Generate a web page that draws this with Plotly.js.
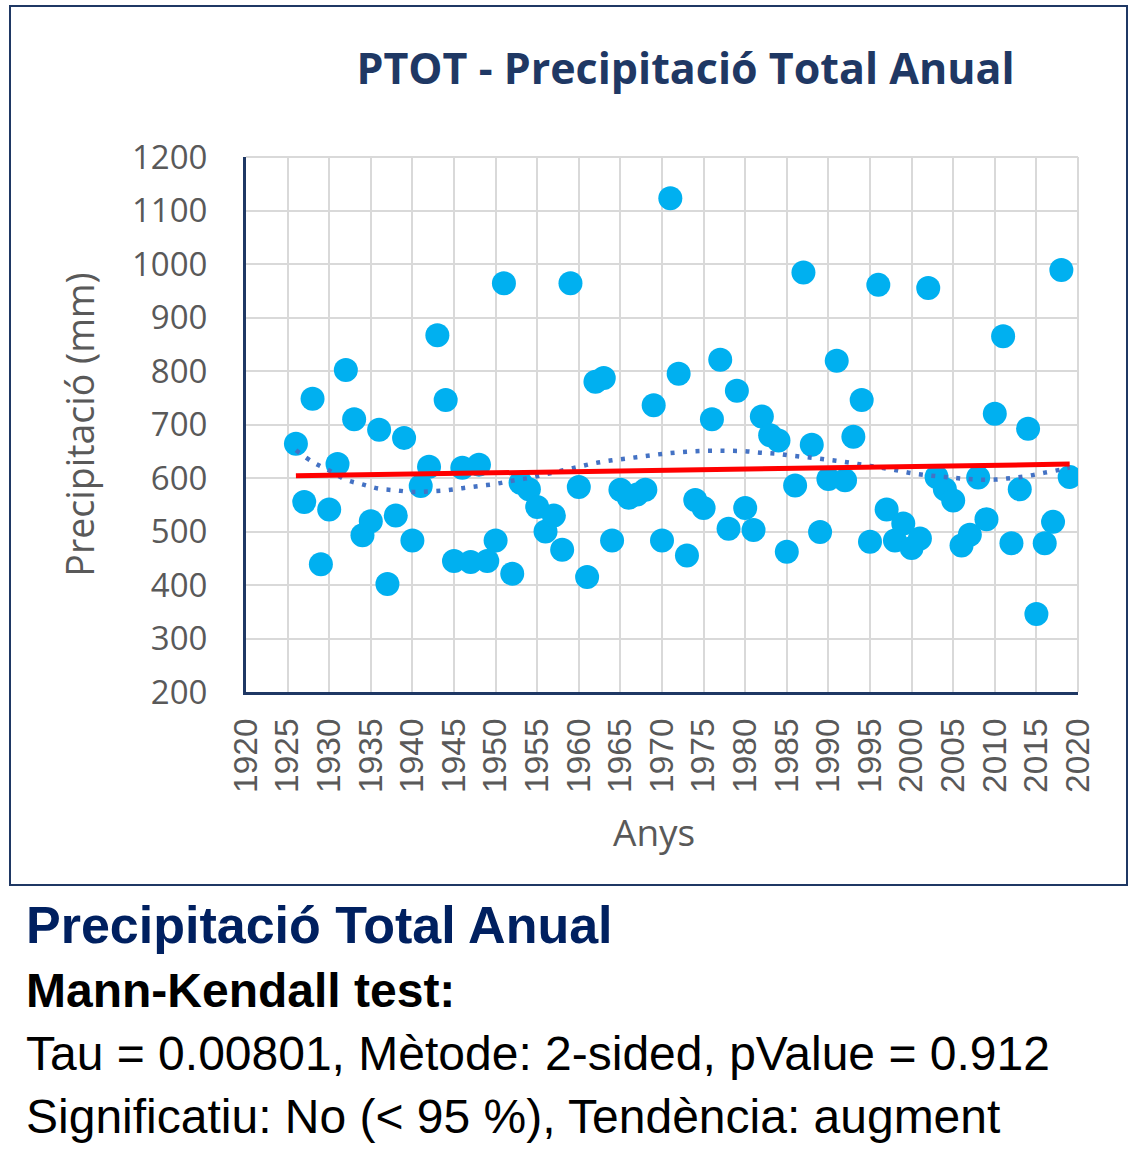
<!DOCTYPE html>
<html>
<head>
<meta charset="utf-8">
<script src="https://cdn.plot.ly/plotly-3.0.1.min.js"></script>
<style>
  html, body { margin: 0; padding: 0; background: #ffffff; }
  #chart { width: 1139px; height: 1157px; }
</style>
</head>
<body>
<div id="chart"></div>
<script>
// ---- Data ----
const years = [1926,1927,1928,1929,1930,1931,1932,1933,1934,1935,1936,1937,1938,1939,1940,1941,1942,1943,1944,1945,
  1946,1947,1948,1949,1950,1951,1952,1953,1954,1955,1956,1957,1958,1959,1960,1961,1962,1963,1964,1965,
  1966,1967,1968,1969,1970,1971,1972,1973,1974,1975,1976,1977,1978,1979,1980,1981,1982,1983,1984,1985,
  1986,1987,1988,1989,1990,1991,1992,1993,1994,1995,1996,1997,1998,1999,2000,2001,2002,2003,2004,2005,
  2006,2007,2008,2009,2010,2011,2012,2013,2014,2015,2016,2017,2018,2019];
const precip = [664,555,748,439,541,626,802,710,493,519,690,402,530,675,483,585,621,867,746,445,
  619,443,625,445,483,964,421,591,579,546,500,530,466,964,583,415,780,787,483,578,
  563,569,578,736,483,1123,795,455,559,544,710,821,505,763,544,503,715,680,670,462,
  586,984,662,499,598,819,596,677,746,481,961,541,483,515,469,487,955,602,579,558,
  474,494,601,523,720,865,478,579,692,346,478,518,989,602];

// linear trend (red) end points
const linYears = [1926, 2019];
const linValues = [604, 626];

// polynomial trend (blue dotted)
const polyYears = [1926,1928,1930,1932,1934,1936,1938,1940,1942,1944,1946,1948,1950,1952,1954,1956,1958,1960,
  1962,1964,1966,1968,1970,1972,1974,1976,1978,1980,1982,1984,1986,1988,1990,1992,1994,1996,1998,2000,
  2002,2004,2006,2008,2010,2012,2014,2016,2018,2019];
const polyValues = [652,630,614,597,588,580,577,574,575,577,581,585,589,595,600,607,614,621,
  628,633,637,641,645,648,650,651,651,650,647,645,641,638,634,630,625,620,615,609,
  605,602,599,597,597,600,604,610,616,620];

const xTicks = [1920,1925,1930,1935,1940,1945,1950,1955,1960,1965,1970,1975,1980,1985,1990,1995,2000,2005,2010,2015,2020];
const yTicks = [200,300,400,500,600,700,800,900,1000,1100,1200];

const chartTitle = 'PTOT - Precipitació Total Anual';
const xTitle = 'Anys';
const yTitle = 'Precipitació (mm)';
const noteLines = [
  'Precipitació Total Anual',
  'Mann-Kendall test:',
  'Tau = 0.00801, Mètode: 2-sided, pValue = 0.912',
  'Significatiu: No (< 95 %), Tendència: augment'
];

// ---- layout helpers (pixel -> paper) ----
const W = 1139, H = 1157;
const L = 246, R = 1078, T = 157, B = 692;
const px = v => (v - L) / (R - L);
const py = v => (B - v) / (B - T);

const navy = '#1F3864';
const grey = '#595959';

const traces = [
  {
    x: years, y: precip, type: 'scatter', mode: 'markers',
    marker: { color: '#00B0F0', size: 24, line: { width: 0 } },
    name: 'PTOT', showlegend: false, hoverinfo: 'x+y'
  },
  {
    x: polyYears, y: polyValues, type: 'scatter', mode: 'lines',
    line: { color: '#4472C4', width: 4.5, dash: '4px,8.5px', shape: 'spline', smoothing: 1 },
    showlegend: false, hoverinfo: 'skip'
  },
  {
    x: linYears, y: linValues, type: 'scatter', mode: 'lines',
    line: { color: '#FF0000', width: 5 },
    showlegend: false, hoverinfo: 'skip'
  }
];

const layout = {
  width: W, height: H,
  paper_bgcolor: '#ffffff', plot_bgcolor: '#ffffff',
  margin: { l: L, r: W - R, t: T, b: H - B, pad: 0 },
  showlegend: false,
  title: {
    text: '<b>' + chartTitle + '</b>',
    font: { family: 'Open Sans, sans-serif', size: 43, color: navy },
    x: 685.5 / W, xanchor: 'center', xref: 'container',
    y: 1 - 69 / H, yanchor: 'middle', yref: 'container'
  },
  xaxis: {
    range: [1920, 2020], tickvals: xTicks, ticktext: xTicks.map(String),
    tickangle: -90, ticks: '', ticklabelstandoff: 10,
    tickfont: { family: 'Liberation Sans, Arial, sans-serif', size: 33.5, color: grey },
    showgrid: true, gridcolor: '#D9D9D9', gridwidth: 2,
    showline: true, linecolor: navy, linewidth: 3, zeroline: false
  },
  yaxis: {
    range: [200, 1200], tickvals: yTicks, ticktext: yTicks.map(String),
    ticks: '', ticklabelstandoff: 29,
    tickfont: { family: 'Open Sans, sans-serif', size: 33, color: grey },
    showgrid: true, gridcolor: '#D9D9D9', gridwidth: 2,
    showline: true, linecolor: navy, linewidth: 3, zeroline: false,
    title: { text: yTitle, font: { family: 'Open Sans, sans-serif', size: 37.5, color: grey }, standoff: 26 }
  },
  shapes: [
    { type: 'rect', xref: 'paper', yref: 'paper', x0: px(10), x1: px(1127), y0: py(885), y1: py(6),
      line: { color: navy, width: 2 }, fillcolor: 'rgba(0,0,0,0)', layer: 'below' },
    { type: 'line', xref: 'paper', yref: 'paper', x0: 0, x1: 1, y0: 1, y1: 1,
      line: { color: '#D9D9D9', width: 2 }, layer: 'below' },
    { type: 'line', xref: 'paper', yref: 'paper', x0: 1, x1: 1, y0: 0, y1: 1,
      line: { color: '#D9D9D9', width: 2 }, layer: 'below' }
  ],
  annotations: [
    { text: xTitle, xref: 'paper', yref: 'paper', x: px(654), y: py(831),
      xanchor: 'center', yanchor: 'middle', showarrow: false,
      font: { family: 'Open Sans, sans-serif', size: 37, color: grey } },
    { text: '<b>' + noteLines[0] + '</b>', xref: 'paper', yref: 'paper', x: px(24), y: py(925),
      xanchor: 'left', yanchor: 'middle', showarrow: false,
      font: { family: 'Liberation Sans, Arial, sans-serif', size: 52, color: '#002060' } },
    { text: '<b>' + noteLines[1] + '</b>', xref: 'paper', yref: 'paper', x: px(24), y: py(990),
      xanchor: 'left', yanchor: 'middle', showarrow: false,
      font: { family: 'Liberation Sans, Arial, sans-serif', size: 48, color: '#000000' } },
    { text: noteLines[2], xref: 'paper', yref: 'paper', x: px(24), y: py(1053),
      xanchor: 'left', yanchor: 'middle', showarrow: false,
      font: { family: 'Liberation Sans, Arial, sans-serif', size: 48, color: '#000000' } },
    { text: noteLines[3], xref: 'paper', yref: 'paper', x: px(24), y: py(1116),
      xanchor: 'left', yanchor: 'middle', showarrow: false,
      font: { family: 'Liberation Sans, Arial, sans-serif', size: 48, color: '#000000' } }
  ]
};

Plotly.newPlot('chart', traces, layout, { displayModeBar: false, staticPlot: true });
</script>
</body>
</html>
